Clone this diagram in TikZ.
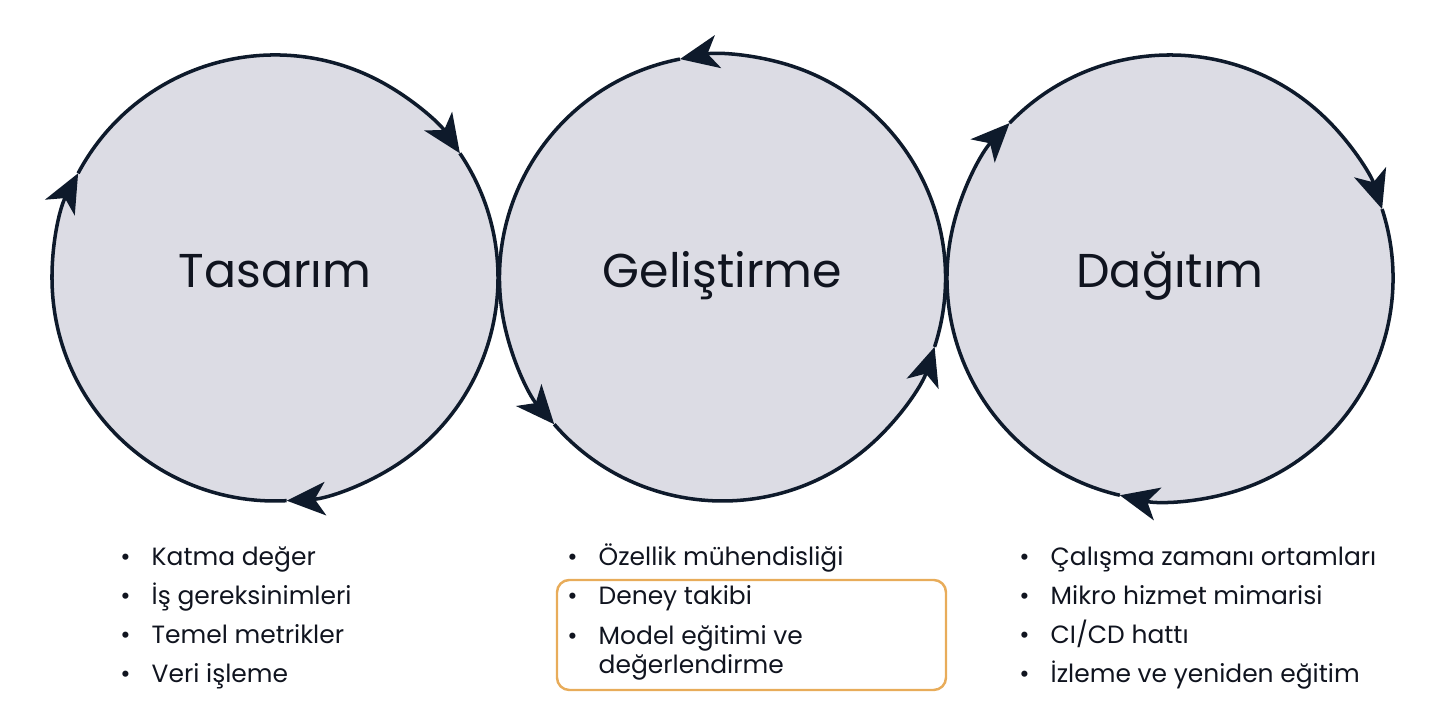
\documentclass[tikz,border=0pt]{standalone}
\usepackage{fontspec}
\setmainfont{Poppins}
\usepackage{tikz}
\usetikzlibrary{calc}
\usetikzlibrary{arrows.meta}
\definecolor{ink}{HTML}{0E1A2B}
\definecolor{disc}{HTML}{DCDCE4}
\definecolor{frame}{HTML}{E8AC5A}
\definecolor{txt}{HTML}{10141F}
\newcommand{\bul}{\llap{•\hspace{2.1mm}}}

\begin{document}
\begin{tikzpicture}
  \tikzset{
    phase/.style={circle, fill=disc, minimum size=4.46cm, inner sep=0pt, text=txt, font=\fontsize{13.5}{16}\selectfont, text height=2.5mm, text depth=0.5mm, node distance=4.475cm},
    cyc/.style={draw=ink, line width=1pt, -{Stealth[length=11pt, width=9.5pt, inset=3pt]}},
    item/.style={anchor=base west, inner sep=0pt, text=txt, font=\fontsize{7.1}{8.5}\selectfont, align=left},
    hl/.style={draw=frame, line width=0.7pt, rounded corners=3.5pt}
  }
  \useasboundingbox (0,0) rectangle (14.4,7.2);
  \node [phase] (tas) at (2.75,4.42) {Tasarım};
  \node [phase, right of = tas] (gel) {Geliştirme};
  \node [phase, right of = gel] (dag) {Dağıtım};

  % clockwise
  \path [cyc] ($(tas.center)+(152:2.23)$) arc[start angle=152, end angle=34, radius=2.23];
  \path [cyc] ($(tas.center)+(34:2.23)$) arc[start angle=34, end angle=-87, radius=2.23];
  \path [cyc] ($(tas.center)+(273:2.23)$) arc[start angle=273, end angle=152, radius=2.23];
  % counterclockwise
  \path [cyc] ($(gel.center)+(-18:2.23)$) arc[start angle=-18, end angle=101, radius=2.23];
  \path [cyc] ($(gel.center)+(101:2.23)$) arc[start angle=101, end angle=221, radius=2.23];
  \path [cyc] ($(gel.center)+(221:2.23)$) arc[start angle=221, end angle=342, radius=2.23];
  % clockwise
  \path [cyc] ($(dag.center)+(257:2.23)$) arc[start angle=257, end angle=136, radius=2.23];
  \path [cyc] ($(dag.center)+(136:2.23)$) arc[start angle=136, end angle=18, radius=2.23];
  \path [cyc] ($(dag.center)+(18:2.23)$) arc[start angle=18, end angle=-103, radius=2.23];

  \node [item] (t1) at (1.51,1.54) {\bul Katma değer};
  \node [item] (t2) at (1.51,1.15) {\bul İş gereksinimleri};
  \node [item] (t3) at (1.51,0.76) {\bul Temel metrikler};
  \node [item] (t4) at (1.51,0.37) {\bul Veri işleme};

  \node [item] (g1) at (5.98,1.54) {\bul Özellik mühendisliği};
  \node [item] (g2) at (5.98,1.15) {\bul Deney takibi};
  \node [item] (g3) at (5.98,0.46) {\bul Model eğitimi ve\\değerlendirme};
  \draw [hl] (5.57,0.30) rectangle (9.46,1.40);

  \node [item] (d1) at (10.50,1.54) {\bul Çalışma zamanı ortamları};
  \node [item] (d2) at (10.50,1.15) {\bul Mikro hizmet mimarisi};
  \node [item] (d3) at (10.50,0.76) {\bul CI/CD hattı};
  \node [item] (d4) at (10.50,0.37) {\bul İzleme ve yeniden eğitim};
\end{tikzpicture}
\end{document}
